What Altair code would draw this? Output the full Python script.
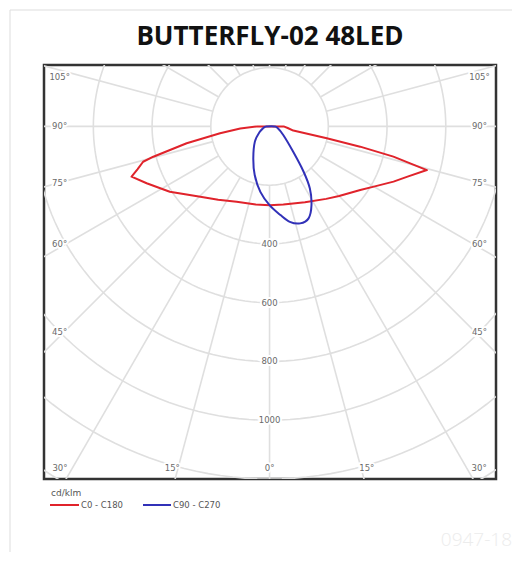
import altair as alt
import numpy as np
import pandas as pd

TITLE = "BUTTERFLY-02 48LED"
UNIT = "cd/klm"
SERIES = ["C0 - C180", "C90 - C270"]
WATERMARK = "0947-18"

# C0 - C180 plane (cd/klm)
red_left_gamma = [0, 10, 23.6, 35, 43.1, 50, 56.8, 65.2, 70, 72, 74.4, 75.4, 78.5, 82.2, 86, 90]
red_left_I = [268, 270, 280, 305, 330, 362, 406, 461, 500, 473, 447, 409, 288, 170, 100, 44]
red_right_gamma = [0, 10, 17, 25, 38, 45, 55, 60, 66, 70, 74.5, 75.3, 76.3, 77.4, 78.3, 80, 85, 90]
red_right_I = [268, 270, 274, 285, 313, 335, 377, 410, 462, 500, 556, 495, 434, 316, 199, 82, 62, 48]

# C90 - C270 plane (negative angles = C270 side)
blue_gamma = [-90, -75, -61, -44, -27, -17, -8, 0, 7, 12, 17.5, 23, 28, 33, 37, 43, 58, 80, 90]
blue_I = [12, 22, 38, 72, 122, 173, 225, 268, 304, 332, 346, 340, 304, 252, 192, 118, 55, 27, 16]

ring_values = [200, 400, 600, 800, 1000, 1200, 1400]
ring_labels = [400, 600, 800, 1000]
angle_labels = [0, 15, 30, 45, 60, 75, 90, 105]

XMIN, XMAX, YMIN, YMAX = -768, 771, -1200, 209
W, H = 452, 414
S = H / (YMAX - YMIN)  # px per unit

RED = "#e0232b"
BLUE = "#3131b8"
GRID = "#dfdfdf"
LABEL = "#6a6a6a"

xs = alt.Scale(domain=[XMIN, XMAX], nice=False, zero=False)
ys = alt.Scale(domain=[YMIN, YMAX], nice=False, zero=False)


def pos(df):
    return dict(
        x=alt.X("x:Q", scale=xs, axis=None),
        y=alt.Y("y:Q", scale=ys, axis=None),
    )


# curves
rows = []
o = 0
for g, i in zip(reversed(red_left_gamma), reversed(red_left_I)):
    r = np.radians(g)
    rows.append({"x": -i * np.sin(r), "y": -i * np.cos(r), "o": o, "s": SERIES[0]}); o += 1
for g, i in zip(red_right_gamma[1:], red_right_I[1:]):
    r = np.radians(g)
    rows.append({"x": i * np.sin(r), "y": -i * np.cos(r), "o": o, "s": SERIES[0]}); o += 1
rows.append(dict(rows[0], o=o))
red_df = pd.DataFrame(rows)

rows = []
for k, (g, i) in enumerate(zip(blue_gamma, blue_I)):
    r = np.radians(g)
    rows.append({"x": i * np.sin(r), "y": -i * np.cos(r), "o": k, "s": SERIES[1]})
rows.append(dict(rows[0], o=len(rows)))
blue_df = pd.DataFrame(rows)

# grid
circ = []
for rv in ring_values:
    for k, t in enumerate(np.linspace(0, 2 * np.pi, 181)):
        circ.append({"x": rv * np.sin(t), "y": -rv * np.cos(t), "o": k, "id": rv})
circ_df = pd.DataFrame(circ)

rad = []
for a in range(0, 360, 15):
    t = np.radians(a)
    for k, rv in enumerate([ring_values[0], 1600]):
        rad.append({"x": rv * np.sin(t), "y": -rv * np.cos(t), "o": k, "id": a})
rad_df = pd.DataFrame(rad)

# angle labels
al = []
for a in angle_labels:
    t = np.radians(a)
    for side in ([1] if a == 0 else [-1, 1]):
        if a <= 30:
            y = YMIN + 11 / S
            x = side * 1.03 * (-YMIN) * np.tan(t)
        else:
            x = side * 210 / S
            y = -abs(x) * np.cos(t) / np.sin(t)
            if a < 75:
                y += 4 / S
            y = min(y, YMAX - 12 / S)
        al.append({"x": x, "y": y, "t": f"{a}°"})
al_df = pd.DataFrame(al)

rl_df = pd.DataFrame({"x": [0] * len(ring_labels), "y": [-v for v in ring_labels],
                      "t": [str(v) for v in ring_labels]})

grid_c = alt.Chart(circ_df).mark_line(color=GRID, strokeWidth=1.6, clip=True).encode(
    **pos(circ_df), order="o:Q", detail="id:N")
grid_r = alt.Chart(rad_df).mark_line(color=GRID, strokeWidth=1.6, clip=True).encode(
    **pos(rad_df), order="o:Q", detail="id:N")


def halo_text(df):
    base = alt.Chart(df)
    h = base.mark_text(fontSize=8.5, font="DejaVu Sans", stroke="white", strokeWidth=4,
                       color="white", baseline="middle").encode(**pos(df), text="t:N")
    t = base.mark_text(fontSize=8.5, font="DejaVu Sans", color=LABEL,
                       baseline="middle").encode(**pos(df), text="t:N")
    return [h, t]


red_line = alt.Chart(red_df).mark_line(color=RED, strokeWidth=2, strokeJoin="round").encode(
    **pos(red_df), order="o:Q")
blue_line = alt.Chart(blue_df).mark_line(color=BLUE, strokeWidth=2, interpolate="cardinal").encode(
    **pos(blue_df), order="o:Q")

one = pd.DataFrame({"k": [0]})
title = alt.Chart(one).mark_text(text=TITLE, font="Open Sans", fontSize=26, fontWeight="bold",
                                 color="#111111", align="center", baseline="middle").encode(
    x=alt.value(226), y=alt.value(-28))
unit_t = alt.Chart(one).mark_text(text=UNIT, font="DejaVu Sans", fontSize=9, color="#555555",
                                  align="left", baseline="middle").encode(x=alt.value(7), y=alt.value(428))
leg_r = alt.Chart(one).mark_rule(color=RED, strokeWidth=2).encode(
    x=alt.value(6), x2=alt.value(35), y=alt.value(440))
leg_rt = alt.Chart(one).mark_text(text=SERIES[0], font="DejaVu Sans", fontSize=8.5, color="#555555",
                                  align="left", baseline="middle").encode(x=alt.value(37), y=alt.value(440))
leg_b = alt.Chart(one).mark_rule(color=BLUE, strokeWidth=2).encode(
    x=alt.value(99), x2=alt.value(127), y=alt.value(440))
leg_bt = alt.Chart(one).mark_text(text=SERIES[1], font="DejaVu Sans", fontSize=8.5, color="#555555",
                                  align="left", baseline="middle").encode(x=alt.value(129), y=alt.value(440))
wm = alt.Chart(one).mark_text(text=WATERMARK, font="Open Sans", fontSize=19, fontWeight=300,
                              color="#ececec", align="right", baseline="alphabetic").encode(
    x=alt.value(468), y=alt.value(481))
card_top = alt.Chart(one).mark_rule(color="#dddddd", strokeWidth=1).encode(
    x=alt.value(-34), x2=alt.value(470), y=alt.value(-55))
card_left = alt.Chart(one).mark_rule(color="#dddddd", strokeWidth=1).encode(
    x=alt.value(-34), y=alt.value(-55), y2=alt.value(490))

layers = [card_top, card_left, grid_c, grid_r, red_line, blue_line] + halo_text(al_df) + halo_text(rl_df) + [
    title, unit_t, leg_r, leg_rt, leg_b, leg_bt, wm]

chart = alt.layer(*layers).properties(
    width=W, height=H,
    padding={"left": 36, "top": 57, "right": 16, "bottom": 73},
    autosize=alt.AutoSizeParams(type="none"),
    background="white",
).configure_view(stroke="#333333", strokeWidth=2.5)

chart.save("out.html", embed_options={"renderer": "svg", "actions": False})
